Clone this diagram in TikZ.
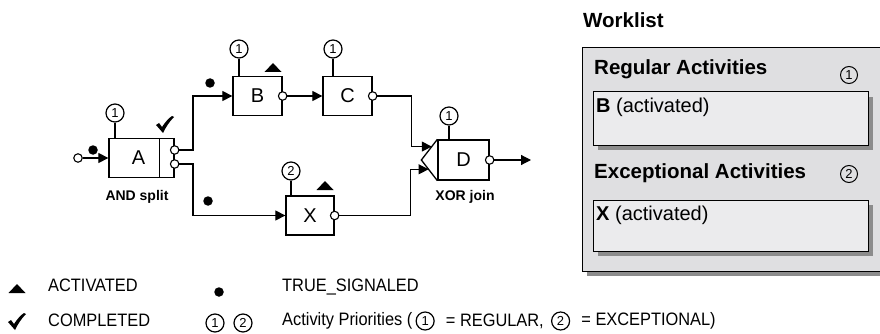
\documentclass[tikz,border=0pt]{standalone}
\usepackage{fontspec}
\setmainfont{Liberation Sans}
\newfontfamily\legfont{Liberation Sans}[FakeStretch=0.91]
\usetikzlibrary{arrows.meta,calc,shadows}
\definecolor{wlfill}{HTML}{DFDFE1}
\definecolor{wlinner}{HTML}{EBEBED}
\definecolor{wlshadow}{HTML}{8C8C8C}
\begin{document}
\begin{tikzpicture}[x=1pt,y=-1pt,
  actbox/.style={draw, line width=1.3pt, minimum height=39pt, inner sep=0pt, font=\fontsize{20}{20}\selectfont},
  port/.style={circle, draw, fill=white, line width=1.1pt, minimum size=8.5pt, inner sep=0pt},
  prio/.style={circle, draw, line width=1.2pt, minimum size=18pt, inner sep=0pt, font=\fontsize{13}{13}\selectfont},
  conn/.style={line width=1.2pt, -{Triangle[length=10pt,width=10pt]}},
  stem/.style={line width=1.2pt},
  tok/.style={circle, fill=black, minimum size=9.5pt, inner sep=0pt},
  lbl/.style={font=\bfseries\fontsize{14}{14}\selectfont},
  wltitle/.style={font=\bfseries\fontsize{20.5}{20.5}\selectfont, anchor=west, inner sep=0pt},
  wltext/.style={font=\fontsize{20}{20}\selectfont, anchor=base west, inner sep=0pt},
  wlbox/.style={draw, line width=1pt, inner sep=0pt, fill=#1,
     drop shadow={shadow xshift=5pt, shadow yshift=-5pt, fill=wlshadow, opacity=1}},
  legtxt/.style={font=\legfont\fontsize{18}{18}\selectfont, anchor=west, inner sep=0pt},
  actmark/.pic={\fill (-8.5,0) -- (8.5,0) -- (0,-9) -- cycle;},
  checkmark/.pic={\fill (-9,1) -- (-6,-1) -- (-3,3) .. controls (1,-3) and (4,-6) .. (7,-8) -- (9,-7) .. controls (4,-2) and (1,3) .. (-2,9) -- cycle;}
]
\useasboundingbox (0,0) rectangle (880,334);

% ---------- process diagram ----------
\node[actbox, minimum width=65pt] (A) at (141.5,158) {};
\node[font=\fontsize{20}{20}\selectfont] (Alab) at ($(A.center)+(-3,0)$) {A};
\draw[stem] ($(A.north east)+(-15,0)$) -- ($(A.south east)+(-15,0)$);
\node[actbox, minimum width=49pt] (B) at (257.5,96) {B};
\node[actbox, minimum width=49pt] (C) at (347.5,96) {C};
\node[actbox, minimum width=48pt] (X) at (310,215.5) {X};
\node[actbox, minimum width=51pt, minimum height=40pt] (D) at (463.5,160) {D};
\coordinate (Dj) at ($(D.west)+(-16,0)$);
\draw[line width=1.3pt] (D.north west) -- (Dj) -- (D.south west);

% priorities
\node[prio] (prA) at (115,113) {1};
\node[prio] (prB) at (239,49) {1};
\node[prio] (prC) at (333,49) {1};
\node[prio] (prX) at (291,171) {2};
\node[prio] (prD) at (449,116) {1};
\draw[stem] (prA.south) -- (prA.south |- A.north);
\draw[stem] (prB.south) -- (prB.south |- B.north);
\draw[stem] (prC.south) -- (prC.south |- C.north);
\draw[stem] (prX.south) -- (prX.south |- X.north);
\draw[stem] (prD.south) -- (prD.south |- D.north);

% input / output points
\node[port] (in) at (78,158) {};
\coordinate (Dout) at (531,160);

% connectors
\draw[conn] (in) -- (A.west);
\draw[conn] ($(A.east)+(0,-8)$) ++(4.25,0) -- ++(14,0) |- (B.west);
\draw[conn] ($(A.east)+(0,6)$) ++(4.25,0) -- ++(14,0) |- (X.west);
\draw[conn] (B.east) -- (C.west);
\draw[conn] (C.east) -- ++(39,0) |- ($(D.north west)!0.35!(Dj)$);
\draw[conn] (X.east) -- ++(76,0) |- ($(Dj)!0.45!(D.south west)$);
\draw[conn] (D.east) -- (Dout);

% ports on boxes
\node[port] (pA1) at ($(A.east)+(0,-8)$) {};
\node[port] (pA2) at ($(A.east)+(0,6)$) {};
\node[port] (pB) at (B.east) {};
\node[port] (pC) at (C.east) {};
\node[port] (pX) at (X.east) {};
\node[port] (pD) at (D.east) {};

% tokens and state marks
\node[tok] (tkA) at (93,150) {};
\node[tok] (tkB) at (210,83) {};
\node[tok] (tkX) at (208,201) {};
\pic at (273,72) {actmark};
\pic at (325,190) {actmark};
\pic at (165,124) {checkmark};

% labels
\node[lbl] (andlab) at (137,197) {AND split};
\node[lbl] (xorlab) at (465,197) {XOR join};

% ---------- worklist ----------
\node[wltitle] (wl) at (583,20) {Worklist};
\node[wlbox=wlfill, minimum width=308pt, minimum height=223pt] (wlout) at (736,159.5) {};
\node[wlbox=wlinner, minimum width=275pt, minimum height=53pt] (wl1) at (730.5,118.5) {};
\node[wlbox=wlinner, minimum width=275pt, minimum height=51pt] (wl2) at (730.5,225.5) {};
\node[wltitle] (reg) at (594,69) {Regular Activities};
\node[prio, line width=1pt, minimum size=17pt] (wlp1) at (849,75) {1};
\node[wltitle] (exc) at (594,173) {Exceptional Activities};
\node[prio, line width=1pt, minimum size=17pt] (wlp2) at (849,174) {2};
\node[wltext] (bact) at (596,113) {\textbf{B} (activated)};
\node[wltext] (xact) at (596,220) {\textbf{X} (activated)};

% ---------- legend ----------
\pic at (17,293) {actmark};
\node[legtxt] (lact) at (48,285) {ACTIVATED};
\pic at (17,321) {checkmark};
\node[legtxt] (lcomp) at (48,320) {COMPLETED};
\node[tok] (ltok) at (219,292) {};
\node[legtxt] (ltrue) at (282,287) {TRUE\_SIGNALED};
\node[prio] (lp1) at (215,323) {1};
\node[prio] (lp2) at (243,323) {2};
\node[legtxt] (lpri) at (282,321) {Activity Priorities (};
\node[prio, anchor=west] (lc1) at ([xshift=3pt]lpri.east) {1};
\node[legtxt] (lreg) at ([xshift=11pt]lc1.east) {= REGULAR,};
\node[prio, anchor=west] (lc2) at ([xshift=7pt]lreg.east) {2};
\node[legtxt] (lexc) at ([xshift=11pt]lc2.east) {= EXCEPTIONAL)};
\end{tikzpicture}
\end{document}
